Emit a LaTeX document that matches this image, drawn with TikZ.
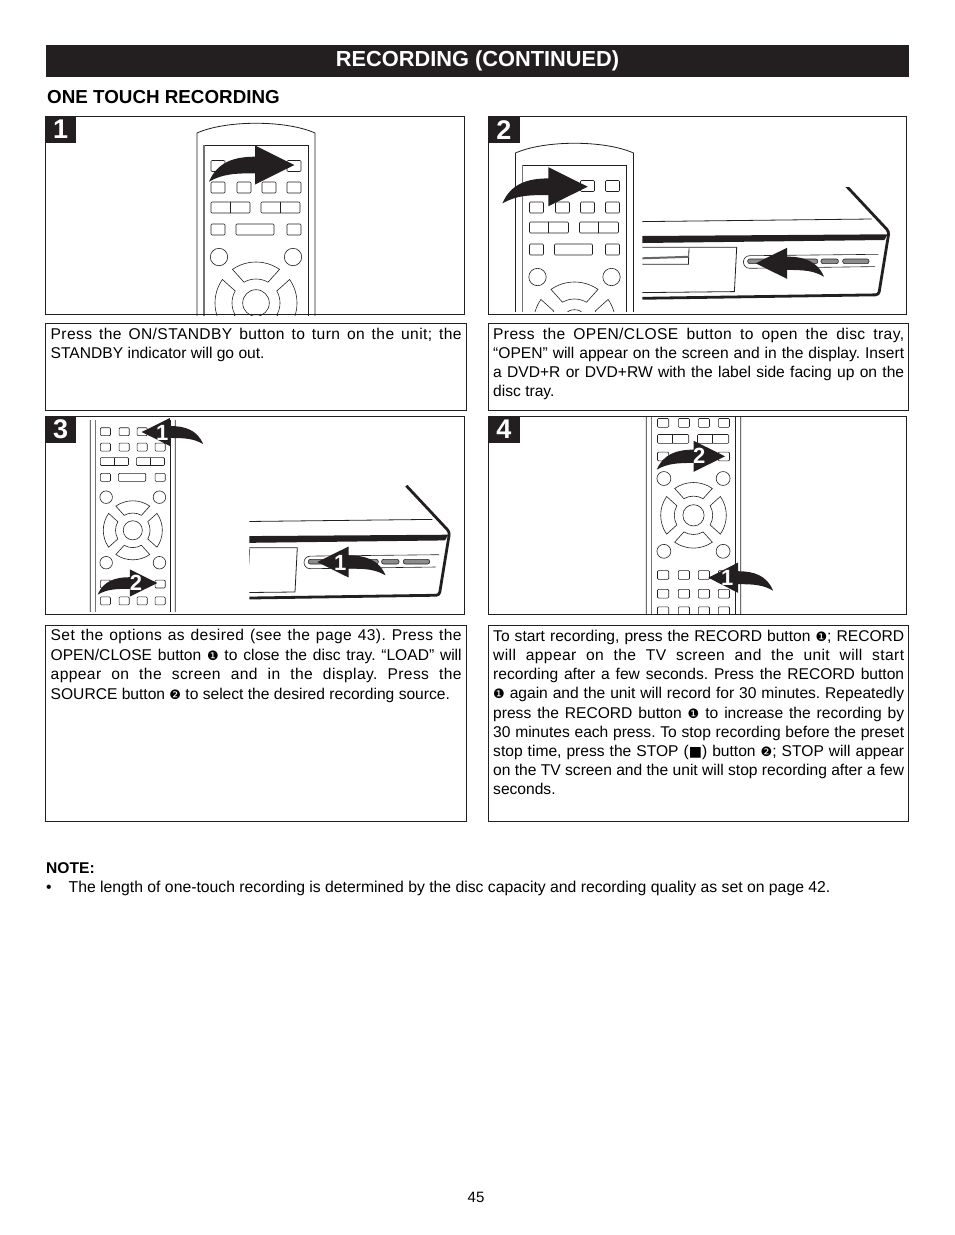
\documentclass[tikz,border=0pt]{standalone}
\usepackage{fontspec}
\setmainfont{Liberation Sans}
\newfontfamily\dingfont{DejaVu Sans}
\usetikzlibrary{positioning}
\definecolor{ink}{HTML}{231F20}
\frenchspacing
\newcommand{\keyone}{{\dingfont\fontsize{13}{10}\selectfont ❶}}
\newcommand{\keytwo}{{\dingfont\fontsize{13}{10}\selectfont ❷}}
\newcommand{\stopmark}{{\dingfont\fontsize{14}{11}\selectfont ■}}
\newcommand{\wideline}[1]{{\addfontfeature{LetterSpace=2.5}#1}}
\tikzset{
    panel/.style={draw=ink, line width=0.9pt},
    keyshape/.style={draw=ink, line width=0.6pt, rounded corners=1pt, fill=white},
    remote/.pic={
        % Body
        \draw[ink, line width=0.8pt] (-59,160) -- (-59,-170) .. controls (-30,-183) and (30,-183) .. (59,-170) -- (59,160);
        \draw[ink, line width=0.8pt] (52,160) -- (52,-158) -- (-52,-158);
        \draw[black!55, line width=1.1pt] (-52,-158) -- (-52,160);
        % Keys
        \foreach \ky in {-137,-115.5,74.6,98,120}
            \foreach \kx in {-38,-12,13,38}
                \draw[keyshape] (\kx-7,\ky-5.5) rectangle (\kx+7,\ky+5.5);
        \draw[keyshape] (-45,-101) rectangle (-6,-90);
        \draw[ink, line width=0.6pt] (-26,-101) -- (-26,-90);
        \draw[keyshape] (5,-101) rectangle (44,-90);
        \draw[ink, line width=0.6pt] (24,-101) -- (24,-90);
        \draw[keyshape] (-45,-79) rectangle (-31,-68);
        \draw[keyshape] (-20,-79) rectangle (18,-68);
        \draw[keyshape] (31,-79) rectangle (45,-68);
        % Round keys and pad
        \foreach \kx in {-37,37}
            \foreach \ky in {-46,45}
                \draw[ink, line width=0.6pt] (\kx,\ky) circle[radius=8.7];
        \draw[ink, line width=0.6pt] (0,0) circle[radius=13.3];
        \foreach \pa in {0,90,180,270}
            \draw[ink, line width=0.6pt, rotate=\pa] (55:41) arc[start angle=55, end angle=125, radius=41] -- (120:24) arc[start angle=120, end angle=60, radius=24] -- cycle;
    },
    player/.pic={
        % Case
        \draw[ink, line width=0.8pt] (-94.3,-25.7) -- (135,-28.3);
        \draw[ink, line width=2.8pt, line join=round, rounded corners=3pt] (109,-62) -- (152.3,-15.7) -- (142,47.5) -- (-94.3,51);
        \fill[ink] (-94.3,-11.3) -- (151,-13) -- (147.7,-7.3) -- (-94.3,-4.3) -- cycle;
        % Tray
        \draw[ink, line width=0.8pt] (-94.3,0) -- (0,0) -- (-2.3,44.3) -- (-94.3,45.3);
        \draw[ink, line width=0.8pt] (-47.7,1) -- (-48.3,17) -- (-94.3,17);
        \draw[black!60, line width=2pt] (-94.3,11) -- (-48,9.5);
        % Button strip
        \draw[ink, line width=0.6pt] (138.3,19.3) -- (13,21) arc[start angle=90, end angle=270, radius=6.3] -- (141.7,7);
        \foreach \bl/\br in {11/38,60/81,84.3/101.7,106/132.3}
            \draw[ink, line width=0.6pt, fill=black!45, rounded corners=2pt] (\bl,11.7) rectangle (\br,16.3);
    },
    pressarrow/.pic={
        \fill[ink] (0,0) -- (-39.3,-19.5) -- (-39.3,-8.3) .. controls (-60,-8.3) and (-77,-3) .. (-85.3,16.7) .. controls (-72,9) and (-60,8.3) .. (-39.3,8.3) -- (-39.3,19.5) -- cycle;
    },
    numtag/.style={fill=ink, text=white, font=\bfseries\fontsize{27}{27}\selectfont, minimum width=31pt, minimum height=27pt, inner sep=0pt, anchor=north west},
    arrowtag/.style={text=white, font=\bfseries\fontsize{22}{22}\selectfont, inner sep=0pt},
    bodytext/.style={anchor=north west, inner sep=0pt, text width=411pt, align=justify, font=\fontsize{15.6}{19.2}\selectfont}
}
\begin{document}
\begin{tikzpicture}[x=1pt, y=-1pt]
    \useasboundingbox (0,0) rectangle (954,1235);

    % Header
    \node[fill=ink, text=white, font=\bfseries\fontsize{21.8}{21.8}\selectfont, minimum width=863pt, minimum height=32pt, inner sep=0pt] (hdr) at (477.5,61) {RECORDING (CONTINUED)};
    \node[anchor=west, inner sep=0pt, font=\bfseries\fontsize{18.8}{18.8}\selectfont] (subhdr) at (47,97) {ONE TOUCH RECORDING};

    % Panel 1
    \begin{scope}
        \clip (45,116) rectangle (465,315);
        \pic at (256,303) {remote};
    \end{scope}
    \pic at (294.3,165) {pressarrow};
    \draw[panel] (45.3,116.3) rectangle (464.7,314.5);
    \node[numtag] (tagone) at (45,116) {1};

    % Panel 2
    \begin{scope}
        \clip (488,116) rectangle (640,311);
        \pic at (574.5,323) {remote};
    \end{scope}
    \begin{scope}
        \clip (642.3,187.3) rectangle (907,311);
        \pic at (736.7,247.3) {player};
    \end{scope}
    \pic at (587.7,186.7) {pressarrow};
    \pic[xscale=-.8, yscale=.8] at (755.7,263.3) {pressarrow};
    \draw[panel] (488.3,116.3) rectangle (906.7,314.5);
    \node[numtag] (tagtwo) at (488.3,116) {2};

    % Panel 3
    \begin{scope}
        \clip (45,420) rectangle (240,611);
        \pic[scale=.72] at (132.8,530.3) {remote};
    \end{scope}
    \begin{scope}
        \clip (249.3,485.3) rectangle (465,611);
        \pic at (297.3,547.7) {player};
    \end{scope}
    \pic[xscale=-.72, yscale=.72] at (141.7,432) {pressarrow};
    \pic[scale=.7] at (157.3,583) {pressarrow};
    \pic[xscale=-.8, yscale=.8] at (317.3,562) {pressarrow};
    \node[arrowtag] (threeup) at (162.3,432.7) {1};
    \node[arrowtag] (threelow) at (136,583) {2};
    \node[arrowtag] (threedeck) at (340.3,562.7) {1};
    \draw[panel] (45.3,416.3) rectangle (464.7,614);
    \node[numtag] (tagthree) at (45,416) {3};

    % Panel 4
    \begin{scope}
        \clip (488,416) rectangle (907,614);
        \pic[scale=.8] at (693.5,515.3) {remote};
    \end{scope}
    \pic[scale=.8] at (725,456.3) {pressarrow};
    \pic[xscale=-.76, yscale=.78] at (708.3,577.7) {pressarrow};
    \node[arrowtag] (fourup) at (699.3,456.3) {2};
    \node[arrowtag] (fourlow) at (727.3,577.7) {1};
    \draw[panel] (488.3,416.3) rectangle (906.7,614);
    \node[numtag] (tagfour) at (488.3,416) {4};

    % Text boxes
    \draw[panel] (45.3,323.5) rectangle (466.7,410);
    \draw[panel] (488.3,323.5) rectangle (908.7,410);
    \draw[panel] (45.3,625.5) rectangle (466.7,821.5);
    \draw[panel] (488.3,625.5) rectangle (908.7,821.5);

    \node[bodytext] (textone) at (50.5,327.8) {\wideline{Press the ON/STANDBY button to turn on the unit; the}\linebreak STANDBY indicator will go out.};
    \node[bodytext] (texttwo) at (493,327.8) {\wideline{Press the OPEN/CLOSE button to open the disc tray,}\linebreak “OPEN” will appear on the screen and in the display. Insert\linebreak a DVD+R or DVD+RW with the label side facing up on the\linebreak disc tray.};
    \node[bodytext, font=\fontsize{15.6}{19.7}\selectfont] (textthree) at (50.5,628.8) {\wideline{Set the options as desired (see the page 43). Press the}\linebreak OPEN/CLOSE button \keyone{} to close the disc tray. “LOAD” will\linebreak \wideline{appear on the screen and in the display.  Press the}\linebreak SOURCE button \keytwo{} to select the desired recording source.};
    \node[bodytext] (textfour) at (493,629.8) {To start recording, press the RECORD button \keyone; RECORD\linebreak \wideline{will appear on the TV screen and the unit will start}\linebreak recording after a few seconds. Press the RECORD button\linebreak \keyone{} again and the unit will record for 30 minutes. Repeatedly\linebreak press the RECORD button \keyone{} to increase the recording by\linebreak 30 minutes each press. To stop recording before the preset\linebreak stop time, press the STOP (\stopmark) button \keytwo; STOP will appear\linebreak on the TV screen and the unit will stop recording after a few\linebreak seconds.};

    % Note
    \node[anchor=west, inner sep=0pt, font=\bfseries\fontsize{15.6}{15.6}\selectfont] (notehead) at (46,868) {NOTE:};
    \node[anchor=west, inner sep=0pt, font=\fontsize{15.75}{15.75}\selectfont] (notedot) at (46,888.5) {•};
    \node[anchor=west, inner sep=0pt, font=\fontsize{15.75}{15.75}\selectfont] (notetext) at (68.5,888.5) {The length of one-touch recording is determined by the disc capacity and recording quality as set on page 42.};
    \node[inner sep=0pt, font=\fontsize{15}{15}\selectfont] (pagenum) at (476,1197.5) {45};
\end{tikzpicture}
\end{document}
